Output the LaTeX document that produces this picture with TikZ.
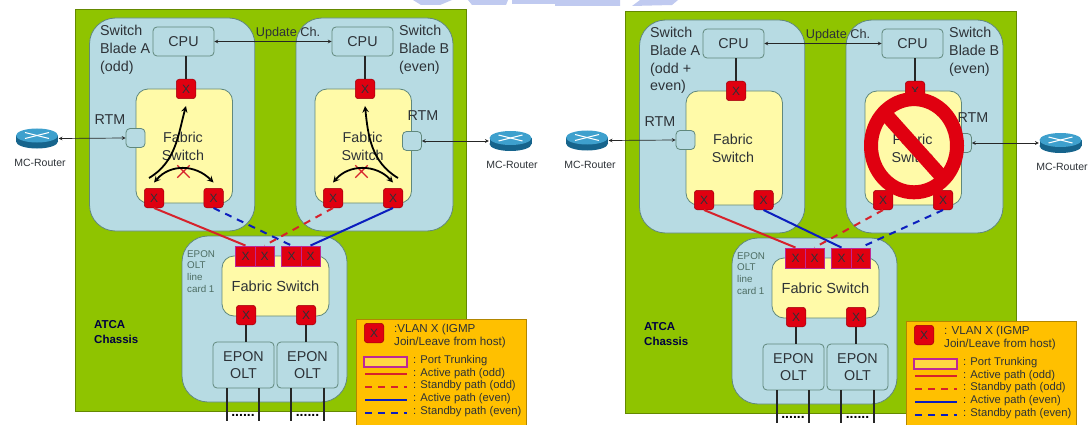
\documentclass[tikz,border=0pt]{standalone}
\usepackage{fontspec}
\setmainfont{Liberation Sans}
\usepackage{tikz}
\usetikzlibrary{arrows,shapes.misc}
\definecolor{colorchassis}{RGB}{143,196,0}
\definecolor{colorblade}{RGB}{183,219,227}
\definecolor{colorborder}{RGB}{96,136,124}
\definecolor{colorfabric}{RGB}{255,250,168}
\definecolor{colorport}{RGB}{224,0,16}
\definecolor{colorlegend}{RGB}{255,192,0}
\definecolor{colorodd}{RGB}{214,34,44}
\definecolor{coloreven}{RGB}{12,30,190}
\definecolor{colortrunk}{RGB}{190,40,150}
\definecolor{colortext}{RGB}{45,50,55}
\definecolor{colormark}{RGB}{192,202,240}
\newcommand{\drawrouter}[1]{
    \fill[color={rgb,255:red,22;green,100;blue,140}] ([yshift=-3pt]#1.center) ellipse (21 and 7);
    \fill[color={rgb,255:red,22;green,100;blue,140}] ([shift={(-21pt,-3pt)}]#1.center) rectangle ([shift={(21pt,3pt)}]#1.center);
    \fill[color={rgb,255:red,62;green,160;blue,205}] ([yshift=3pt]#1.center) ellipse (21 and 7);
    \draw[white,line width=1pt] ([shift={(-12pt,6pt)}]#1.center) -- ([shift={(12pt,0pt)}]#1.center);
    \draw[white,line width=1pt] ([shift={(-12pt,0pt)}]#1.center) -- ([shift={(12pt,6pt)}]#1.center);
}

\begin{document}
\begin{tikzpicture}[
    x=1pt,y=-1pt,>=stealth,
    every node/.style={inner sep=0pt,text=colortext},
    chassis/.style={fill=colorchassis,draw=colorchassis!70!black,line width=0.8pt},
    blade/.style={fill=colorblade,draw=colorborder,line width=0.8pt,rounded corners=26pt},
    fabric/.style={fill=colorfabric,draw=colorborder,line width=0.8pt,rounded corners=12pt},
    box/.style={draw=colorborder,fill=colorblade,line width=0.8pt,rounded corners=4pt,align=center,font=\fontsize{14.3}{17.5}\selectfont},
    port/.style={draw=colorport!70!black,fill=colorport,line width=0.5pt,rounded corners=3pt,minimum size=19.5pt,font=\fontsize{12}{12}\selectfont},
    trunkport/.style={font=\fontsize{12}{12}\selectfont},
    trunk/.style={draw=colortrunk,fill=colorport,line width=0.9pt,minimum width=39pt,minimum height=20pt},
    txt/.style={align=left,anchor=north west,font=\fontsize{14.3}{17.8}\selectfont},
    small/.style={align=left,anchor=north west,text=colorborder!80!black,font=\fontsize{9.8}{11.7}\selectfont},
    legendtxt/.style={align=left,anchor=west,font=\fontsize{11.2}{13}\selectfont},
    wire/.style={line width=1.6pt,color=black!85},
    link/.style={<->,line width=0.7pt,color=black!85},
    flow/.style={line width=1.8pt,color=black},
    crossmark/.style={cross out,draw=colorodd,line width=1.3pt,minimum width=11pt,minimum height=11pt},
    activeodd/.style={line width=2pt,color=colorodd},
    standbyodd/.style={line width=2pt,color=colorodd,dash pattern=on 7pt off 6pt},
    activeeven/.style={line width=2pt,color=coloreven},
    standbyeven/.style={line width=2pt,color=coloreven,dash pattern=on 7pt off 6pt}
]

    \useasboundingbox (0,0) rectangle (1089,425);

    \fill[colormark] (413,0) -- (421,5) -- (440,5) -- (452,0) -- cycle;
    \fill[colormark] (468,0) -- (472,5) -- (506,5) -- (508,0) -- cycle;
    \fill[colormark] (512,0) -- (512,4) -- (555,4) -- (555,6) -- (620,6) -- (620,0) -- cycle;
    \fill[colormark] (632,6) -- (640,0) -- (678,0) -- (672,5) -- cycle;

    \foreach \p/\dx/\dy/\sa/\vlan in {l/0/0/standbyeven/{:VLAN},r/550/2/activeeven/{: VLAN}} {
    \begin{scope}[shift={(\dx,\dy)}]

        \draw[chassis] (75.4,9.6) rectangle (466.6,411.7);
        \draw[blade] (89.5,18) rectangle (254.8,231);
        \draw[blade] (296,18) rectangle (453,231);
        \draw[blade] (182,236) rectangle (347,402);
        \draw[fabric] (136,89) rectangle (232.5,203);
        \draw[fabric] (315,89) rectangle (411.5,203);
        \draw[fabric] (222,256) rectangle (329,316);

        \node[font=\fontsize{14.3}{17.8}\selectfont,align=center] (fabrica-\p) at (183,146) {Fabric\\Switch};
        \node[font=\fontsize{14.3}{17.8}\selectfont,align=center] (fabricb-\p) at (362.6,146) {Fabric\\Switch};
        \node[font=\fontsize{14.6}{17}\selectfont] (fabricc-\p) at (275.5,286) {Fabric Switch};

        \node[box,minimum width=61pt,minimum height=29pt] (cpua-\p) at (183.5,41.5) {CPU};
        \node[box,minimum width=61pt,minimum height=29pt] (cpub-\p) at (362.5,41.5) {CPU};
        \node[port] (topa-\p) at (186,89) {X};
        \node[port] (topb-\p) at (365,89) {X};
        \node[port] (lefta-\p) at (154,198) {X};
        \node[port] (righta-\p) at (213.5,198) {X};
        \node[port] (leftb-\p) at (333,198) {X};
        \node[port] (rightb-\p) at (393,198) {X};
        \node[box,minimum size=19pt] (rtma-\p) at (135.5,138) {};
        \node[box,minimum size=19pt] (rtmb-\p) at (412,141) {};

        \node[trunk] (trunkl-\p) at (255,256) {};
        \node[trunk] (trunkr-\p) at (301,256) {};
        \draw[colortrunk,line width=0.7pt] (trunkl-\p.north) -- (trunkl-\p.south);
        \draw[colortrunk,line width=0.7pt] (trunkr-\p.north) -- (trunkr-\p.south);
        \node[trunkport] (xone-\p) at (245.5,256) {X};
        \node[trunkport] (xtwo-\p) at (264.5,256) {X};
        \node[trunkport] (xthree-\p) at (291.5,256) {X};
        \node[trunkport] (xfour-\p) at (310.5,256) {X};

        \node[port] (lowl-\p) at (246,315) {X};
        \node[port] (lowr-\p) at (306,315) {X};
        \node[box,minimum width=61pt,minimum height=46pt] (oltl-\p) at (243.5,365) {EPON\\OLT};
        \node[box,minimum width=61pt,minimum height=46pt] (oltr-\p) at (307.5,365) {EPON\\OLT};

        \draw[wire] (cpua-\p.south -| topa-\p) -- (topa-\p.north);
        \draw[wire] (cpub-\p.south -| topb-\p) -- (topb-\p.north);
        \draw[wire] (lowl-\p.south) -- (lowl-\p.south |- oltl-\p.north);
        \draw[wire] (lowr-\p.south) -- (lowr-\p.south |- oltr-\p.north);
        \draw[link] (cpua-\p.east) -- (cpub-\p.west);

        \coordinate (wirea-\p) at (227,421);
        \coordinate (wireb-\p) at (259,421);
        \coordinate (wirec-\p) at (291,421);
        \coordinate (wired-\p) at (324,421);
        \draw[wire] (wirea-\p |- oltl-\p.south) -- (wirea-\p);
        \draw[wire] (wireb-\p |- oltl-\p.south) -- (wireb-\p);
        \draw[wire] (wirec-\p |- oltr-\p.south) -- (wirec-\p);
        \draw[wire] (wired-\p |- oltr-\p.south) -- (wired-\p);
        \node[anchor=base,font=\fontsize{14}{14}\bfseries\selectfont,text=black] (dotsl-\p) at (243,416) {......};
        \node[anchor=base,font=\fontsize{14}{14}\bfseries\selectfont,text=black] (dotsr-\p) at (307.5,416) {......};

        \draw[activeodd] (lefta-\p.south) -- (xone-\p |- trunkl-\p.north);
        \draw[\sa] (righta-\p.south) -- (xthree-\p |- trunkr-\p.north);
        \draw[standbyodd] (leftb-\p.south) -- (xtwo-\p |- trunkl-\p.north);

        \node[anchor=center,minimum width=43pt,minimum height=19pt] (routera-\p) at (37,138.5) {};
        \node[anchor=center,minimum width=43pt,minimum height=19pt] (routerb-\p) at (510.5,141) {};
        \drawrouter{routera-\p}
        \drawrouter{routerb-\p}
        \draw[link] (routera-\p.east) -- (rtma-\p.west);
        \draw[link] (rtmb-\p.east) -- (routerb-\p.west);
        \node[font=\fontsize{10.5}{12}\selectfont] (namea-\p) at (40,162.5) {MC-Router};
        \node[font=\fontsize{10.5}{12}\selectfont] (nameb-\p) at (512,164.5) {MC-Router};

        \node[font=\fontsize{14.3}{16}\selectfont] (rtmlabela-\p) at (110,120) {RTM};
        \node[font=\fontsize{14.3}{16}\selectfont] (rtmlabelb-\p) at (423,116) {RTM};
        \node[font=\fontsize{12.7}{14}\selectfont] (update-\p) at (288,33) {Update Ch.};
        \node[txt] (labelb-\p) at (399,25) {Switch\\Blade B\\(even)};
        \node[small] (card-\p) at (187,250) {EPON\\OLT\\line\\card 1};
        \node[align=left,anchor=north west,font=\fontsize{11.5}{15.5}\bfseries\selectfont,text=black!75!blue] (atca-\p) at (94,320) {ATCA\\Chassis};

        \fill[colorlegend,draw=colorlegend!70!black,line width=0.6pt] (356,319) rectangle (526,430);
        \node[port] (legendx-\p) at (374,333) {X};
        \node[legendtxt,anchor=north west,font=\fontsize{11.6}{13}\selectfont] (legendvlan-\p) at (394,324) {\vlan{} X (IGMP\\Join/Leave from host)};
        \node[draw=colortrunk,fill=colorlegend!60!colorfabric,line width=1.2pt,minimum width=43pt,minimum height=10pt] (legendbox-\p) at (385.5,362) {};
        \node[legendtxt] (legenda-\p) at (413,361) {: Port Trunking};
        \node[legendtxt] (legendb-\p) at (413,373.5) {: Active path (odd)};
        \node[legendtxt] (legendc-\p) at (413,386) {: Standby path (odd)};
        \node[legendtxt] (legendd-\p) at (413,399) {: Active path (even)};
        \node[legendtxt] (legende-\p) at (413,412) {: Standby path (even)};
        \draw[activeodd] (365,374) -- (407,374);
        \draw[standbyodd] (365,387) -- (407,387);
        \draw[activeeven] (365,400) -- (407,400);
        \draw[standbyeven] (365,413) -- (407,413);

    \end{scope}
    }

    \draw[activeeven] (rightb-l.south) -- (xfour-l |- trunkr-l.north);
    \draw[standbyeven] (rightb-r.south) -- (xfour-r |- trunkr-r.north);

    \node[txt] (labela-l) at (100,25) {Switch\\Blade A\\(odd)};
    \node[txt] (labela-r) at (650,27) {Switch\\Blade A\\(odd +\\even)};

    \coordinate (starta) at (149,178);
    \coordinate (startb) at (398,178);
    \node[crossmark] (crossa) at (183.5,171.5) {};
    \node[crossmark] (crossb) at (361.5,171.5) {};
    \draw[flow,->] (starta) .. controls (176,162) and (178,135) .. ([yshift=-7pt]topa-l.south);
    \draw[flow,->] (startb) .. controls (371,162) and (368,135) .. ([yshift=-7pt]topb-l.south);
    \draw[flow,<->] ([yshift=5.5pt]lefta-l.north) .. controls (170,164) and (195,164) .. ([yshift=5.5pt]righta-l.north);
    \draw[flow,<->] ([yshift=5.5pt]leftb-l.north) .. controls (349,164) and (376,164) .. ([yshift=5.5pt]rightb-l.north);

    \draw[colorport,line width=14pt] (914,145.7) ellipse (43 and 46.6);
    \draw[colorport,line width=14pt] (885,113.4) -- (943.6,178.8);

\end{tikzpicture}
\end{document}
